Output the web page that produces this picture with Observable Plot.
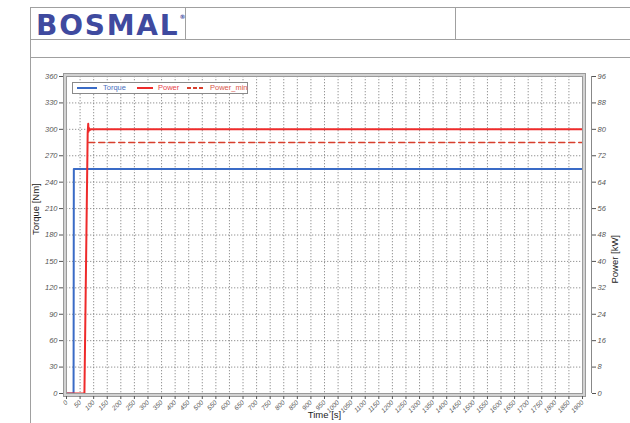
<!DOCTYPE html>
<html><head><meta charset="utf-8">
<script src="https://cdn.jsdelivr.net/npm/d3@7"></script>
<script src="https://cdn.jsdelivr.net/npm/@observablehq/plot@0.6"></script>
<style>
body{margin:0;background:#fff;width:630px;height:423px;overflow:hidden;position:relative;font-family:"Liberation Sans",Arial,sans-serif}
.ln{position:absolute;background:#a0a0a0}
#logo{position:absolute;left:36px;top:9px;font:bold 28px "DejaVu Sans";color:#3f4a9f;letter-spacing:1.8px;white-space:nowrap}
#logo sup{font-size:6px;vertical-align:top;position:relative;top:4px;letter-spacing:0}
#chart{position:absolute;left:30px;top:57px}
#legend{position:absolute;left:72px;top:82px;width:174px;height:10px;border:1px solid #8a8a8a;background:#fff;font-size:7.5px}
.li{position:absolute;top:0;height:10px;line-height:10px}
</style></head><body>
<div class="ln" style="left:30px;top:7px;width:600px;height:1px"></div>
<div class="ln" style="left:30px;top:39px;width:600px;height:1px"></div>
<div class="ln" style="left:30px;top:57px;width:600px;height:1px"></div>
<div class="ln" style="left:30px;top:7px;width:1px;height:416px"></div>
<div class="ln" style="left:185px;top:7px;width:1px;height:32px"></div>
<div class="ln" style="left:455px;top:7px;width:1px;height:32px"></div>
<div id="logo">BOSMAL<sup>®</sup></div>
<div id="chart"></div>
<div id="legend"></div>
<script>
// ---- data ----
const torqueT = [0, 26, 27, 1900];
const torqueV = [0, 0, 255, 255];            // Nm
const powerT = [0, 66, 78, 80, 81, 83, 86, 90, 1900];
const powerV = [0, 0, 79, 81.7, 79.3, 80.4, 79.8, 80, 80]; // kW
const powerMinT = [82, 1900];
const powerMinV = [76, 76];                   // kW
const xTicks = d3.range(0, 1901, 50);
const yTicks = d3.range(0, 361, 30);          // Nm
const y2Ticks = d3.range(0, 97, 8);           // kW
const seriesNames = ["Torque", "Power", "Power_min"];
const seriesColors = ["#3a6bc6", "#ee2b2b", "#d8402e"];
const seriesText = ["#4a6fc0", "#e8434a", "#d9574a"];

const k = 360 / 96; // kW -> Nm scale mapping of the right axis
const torque = torqueT.map((t, i) => ({t, v: torqueV[i]}));
const power = powerT.map((t, i) => ({t, v: powerV[i]}));
const powerMin = powerMinT.map((t, i) => ({t, v: powerMinV[i]}));

const gridStyle = {stroke: "#7a7a7a", strokeOpacity: 1, strokeDasharray: "1.3,1.7", strokeWidth: 0.8};
const tickStyle = {fontSize: 7.5, fontStyle: "italic", color: "#555", label: null};

const chart = Plot.plot({
  width: 600, height: 366,
  marginLeft: 36, marginRight: 48, marginTop: 19, marginBottom: 30,
  x: {domain: [0, 1900]},
  y: {domain: [0, 360]},
  style: {fontFamily: "Liberation Sans, Arial, sans-serif", background: "transparent", overflow: "visible"},
  marks: [
    Plot.gridX(d3.range(50, 1900, 50), gridStyle),
    Plot.gridY(d3.range(30, 360, 30), gridStyle),
    Plot.line(torque, {x: "t", y: "v", stroke: seriesColors[0], strokeWidth: 2}),
    Plot.line(powerMin, {x: "t", y: d => d.v * k, stroke: seriesColors[2], strokeWidth: 1.6, strokeDasharray: "6,4"}),
    Plot.line(power, {x: "t", y: d => d.v * k, stroke: seriesColors[1], strokeWidth: 2}),
    Plot.frame({stroke: "#d2d2d2", strokeWidth: 2, inset: -1.5}),
    Plot.frame({stroke: "#9a9a9a", strokeWidth: 1}),
    Plot.frame({stroke: "#9a9a9a", strokeWidth: 1, inset: -3}),
    Plot.axisY(yTicks, {anchor: "left", tickSize: 4, tickPadding: 2, dx: -3, ...tickStyle}),
    Plot.axisY(y2Ticks.map(v => v * k), {anchor: "right", tickSize: 4, tickPadding: 2, dx: 9, tickFormat: d => Math.round(d / k), ...tickStyle}),
    Plot.ruleX([1900], {dx: 9, stroke: "#888"}),
    Plot.axisX(xTicks, {anchor: "bottom", tickSize: 3, tickPadding: 2, dy: 3, tickRotate: -45, tickFormat: d => String(d), fontSize: 6.5, fontStyle: "italic", color: "#555", label: null}),
    Plot.text(["Torque [Nm]"], {text: d => d, frameAnchor: "left", dx: -31, rotate: -90, fontSize: 9.5, fill: "#222"}),
    Plot.text(["Power [kW]"], {text: d => d, frameAnchor: "right", dx: 32, rotate: -90, fontSize: 9.5, fill: "#222"}),
    Plot.text(["Time [s]"], {text: d => d, frameAnchor: "bottom", dy: 24, fontSize: 9.5, fill: "#222"})
  ]
});
document.getElementById("chart").appendChild(chart);

// legend
const legend = document.getElementById("legend");
const lx = [[4, 24, 30], [64, 80, 85], [114, 131, 137]];
seriesNames.forEach((name, i) => {
  const [a, b, tx] = lx[i];
  const s = document.createElementNS("http://www.w3.org/2000/svg", "svg");
  s.setAttribute("width", b - a); s.setAttribute("height", 10);
  s.style.position = "absolute"; s.style.left = a + "px"; s.style.top = "0px";
  s.innerHTML = `<line x1="0" x2="${b - a}" y1="5" y2="5" stroke="${seriesColors[i]}" stroke-width="2" ${i === 2 ? 'stroke-dasharray="4,2"' : ''}/>`;
  legend.appendChild(s);
  const t = document.createElement("div");
  t.className = "li"; t.style.left = tx + "px"; t.style.color = seriesText[i]; t.textContent = name;
  legend.appendChild(t);
});
</script>
</body></html>
